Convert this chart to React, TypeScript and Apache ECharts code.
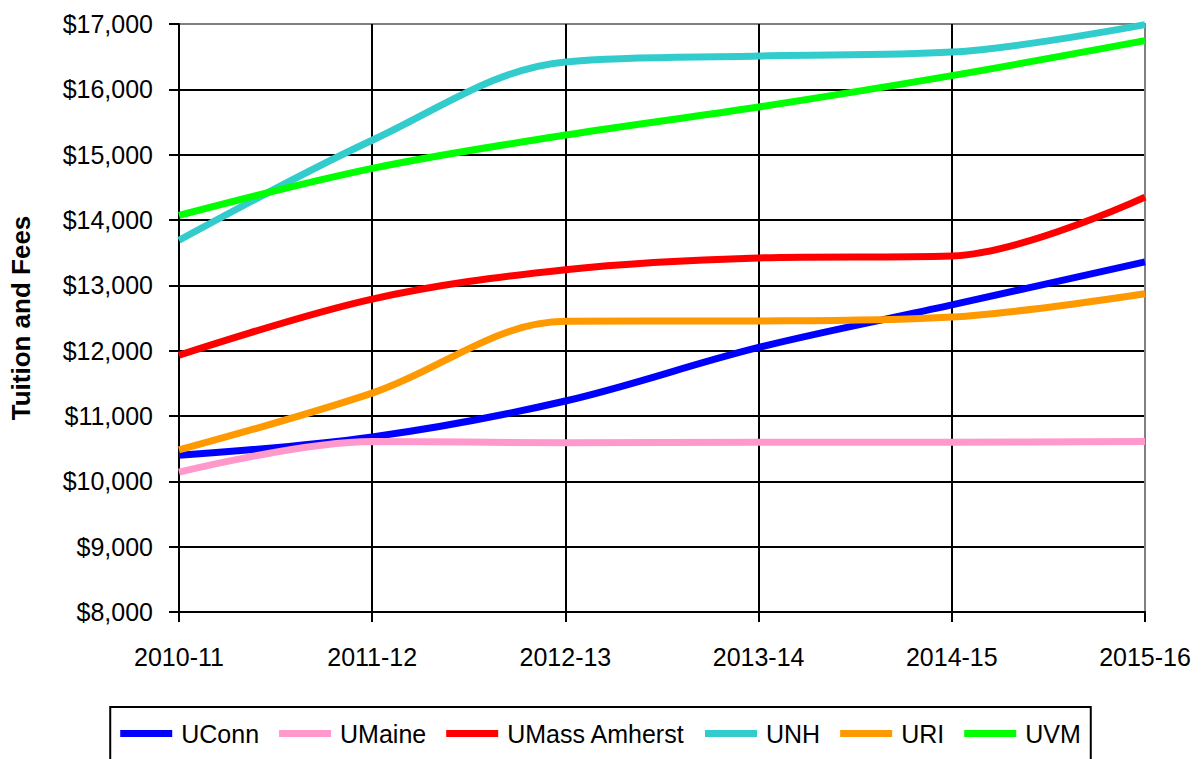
import React, { useEffect, useRef } from "react";
import * as echarts from "echarts";

const years = ["2010-11", "2011-12", "2012-13", "2013-14", "2014-15", "2015-16"];
const seriesNames = ["UConn", "UMaine", "UMass Amherst", "UNH", "URI", "UVM"];
const uconn = [10400, 10680, 11230, 12050, 12700, 13360];
const umaine = [10140, 10610, 10590, 10600, 10600, 10610];
const umass = [11930, 12790, 13240, 13420, 13450, 14350];
const unh = [13690, 15220, 16420, 16510, 16570, 16990];
const uri = [10480, 11350, 12450, 12455, 12515, 12870];
const uvm = [14070, 14790, 15300, 15730, 16210, 16745];
const seriesValues = [uconn, umaine, umass, unh, uri, uvm];
const seriesColors = ["#0000FF", "#FF99CC", "#FF0000", "#33CCCC", "#FF9900", "#00FF00"];

const FONT = "'Liberation Sans', Arial, sans-serif";

export default function App() {
  const ref = useRef<HTMLDivElement>(null);
  useEffect(() => {
    if (!ref.current) return;
    const chart = echarts.init(ref.current, undefined, { renderer: "svg" });
    chart.setOption({
      animation: false,
      backgroundColor: "#ffffff",
      textStyle: { fontFamily: FONT },
      grid: {
        left: 178,
        top: 24,
        right: 56,
        bottom: 147,
        show: true,
        borderColor: "#808080",
        borderWidth: 2,
        backgroundColor: "transparent",
      },
      legend: {
        data: seriesNames,
        left: "center",
        top: 707,
        orient: "horizontal",
        icon: "rect",
        itemWidth: 52,
        itemHeight: 7,
        itemGap: 20,
        borderColor: "#000",
        borderWidth: 2,
        padding: [14, 10, 40, 10],
        textStyle: { fontSize: 25, color: "#000", fontFamily: FONT, padding: [0, 0, 0, 4] },
      },
      xAxis: {
        type: "category",
        data: years,
        boundaryGap: false,
        axisLine: { show: true, lineStyle: { color: "#000", width: 2 } },
        axisTick: { show: true, length: 10, inside: false, lineStyle: { color: "#000", width: 2 } },
        axisLabel: { fontSize: 25, color: "#000", margin: 32, fontFamily: FONT },
        splitLine: {
          show: true,
          lineStyle: { color: ["#000", "#000", "#000", "#000", "#000", "#808080"], width: 2 },
        },
      },
      yAxis: {
        type: "value",
        min: 8000,
        max: 17000,
        interval: 1000,
        name: "Tuition and Fees",
        nameLocation: "middle",
        nameRotate: 90,
        nameGap: 145,
        nameTextStyle: { fontSize: 26, fontWeight: "bold", color: "#000", fontFamily: FONT },
        axisLine: { show: true, lineStyle: { color: "#000", width: 2 } },
        axisTick: { show: true, length: 10, inside: false, lineStyle: { color: "#000", width: 2 } },
        axisLabel: {
          fontSize: 25,
          color: "#000",
          margin: 26,
          fontFamily: FONT,
          formatter: (v: number) => "$" + v.toLocaleString("en-US"),
        },
        splitLine: {
          show: true,
          lineStyle: {
            color: ["#000", "#000", "#000", "#000", "#000", "#000", "#000", "#000", "#000", "#808080"],
            width: 2,
          },
        },
      },
      series: seriesNames.map((name, i) => ({
        name,
        type: "line",
        data: seriesValues[i],
        smooth: 0.35,
        showSymbol: false,
        symbol: "none",
        lineStyle: { color: seriesColors[i], width: 7 },
        itemStyle: { color: seriesColors[i] },
      })),
    });
    return () => chart.dispose();
  }, []);
  return (
    <div
      ref={ref}
      style={{ position: "fixed", left: 0, top: 0, width: 1201, height: 759, background: "#fff" }}
    />
  );
}
